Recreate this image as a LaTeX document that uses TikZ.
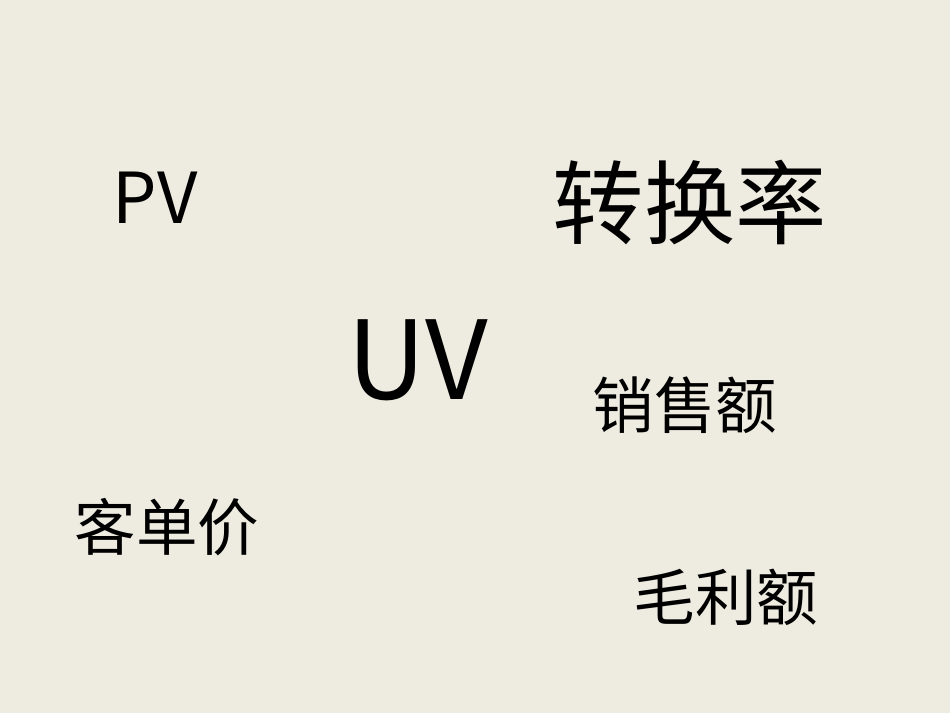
\documentclass[tikz,border=0pt]{standalone}
\usepackage{fontspec}
\setmainfont{Noto Sans CJK SC}
\definecolor{bg}{HTML}{EEEBE1}
\begin{document}
\begin{tikzpicture}[x=0.02cm,y=-0.02cm,lbl/.style={inner sep=0pt,text=black}]
\fill[bg] (0,0) rectangle (950,713);
\useasboundingbox (0,0) rectangle (950,713);
\node[lbl,font=\fontsize{40pt}{48pt}\selectfont] (pv) at (155,198) {PV};
\node[lbl,font=\fontsize{52pt}{60pt}\selectfont] (zhl) at (690,203) {转换率};
\node[lbl,font=\fontsize{62pt}{70pt}\selectfont] (uv) at (418,360) {UV};
\node[lbl,font=\fontsize{35pt}{42pt}\selectfont] (xse) at (685,405) {销售额};
\node[lbl,font=\fontsize{35pt}{42pt}\selectfont] (kdj) at (167,527) {客单价};
\node[lbl,font=\fontsize{35pt}{42pt}\selectfont] (mle) at (726,597) {毛利额};
\end{tikzpicture}
\end{document}
